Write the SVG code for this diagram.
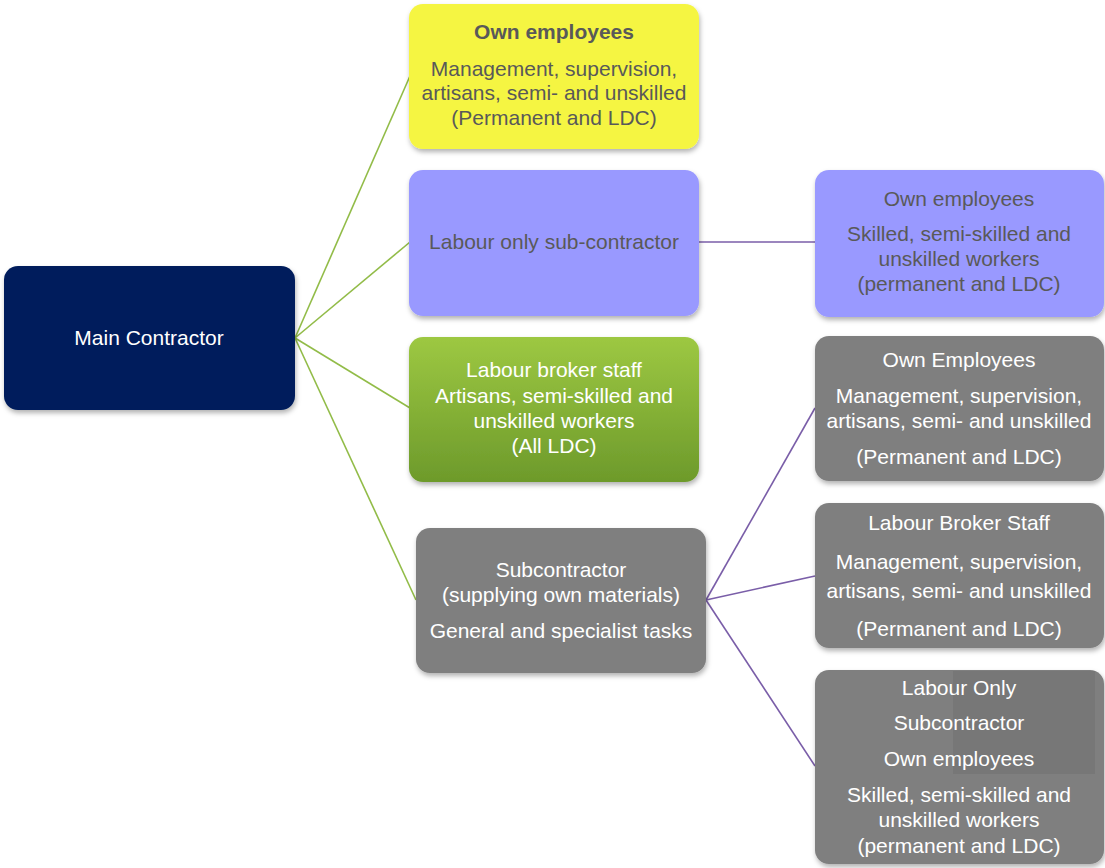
<svg xmlns="http://www.w3.org/2000/svg" width="1105" height="868" viewBox="0 0 1105 868">
<style>
text{font-family:"Liberation Sans",Arial,sans-serif;font-size:21px;text-anchor:middle}
.d{fill:#595959}
.w{fill:#ffffff}
.b{font-weight:bold}
.g{stroke:#92bc48;stroke-width:1.6;fill:none}
.p{stroke:#7a5ea8;stroke-width:1.6;fill:none}
</style>
<defs>
<filter id="sh" x="-10%" y="-10%" width="120%" height="130%">
<feDropShadow dx="1" dy="3" stdDeviation="2.5" flood-color="#000" flood-opacity="0.3"/>
</filter>
<linearGradient id="gr" x1="0" y1="0" x2="0" y2="1">
<stop offset="0" stop-color="#9dc842"/>
<stop offset="1" stop-color="#6d9a2b"/>
</linearGradient>
</defs>
<g id="connectors">
<line class="g" x1="295" y1="338" x2="410" y2="76"/>
<line class="g" x1="295" y1="338" x2="410" y2="242"/>
<line class="g" x1="295" y1="338" x2="410" y2="408"/>
<line class="g" x1="295" y1="338" x2="416" y2="600"/>
<line class="p" x1="699" y1="242" x2="815" y2="242"/>
<line class="p" x1="706" y1="600" x2="815" y2="408"/>
<line class="p" x1="706" y1="600" x2="815" y2="576"/>
<line class="p" x1="706" y1="600" x2="815" y2="766"/>
</g>
<g id="main">
<rect x="4" y="266" width="291" height="144" rx="14" fill="#001f5c" filter="url(#sh)"/>
<text class="w" x="149" y="345">Main Contractor</text>
</g>
<g id="own-employees">
<rect x="409" y="4" width="290" height="145" rx="14" fill="#f5f542" filter="url(#sh)"/>
<text class="d b" x="554" y="39">Own employees</text>
<text class="d" x="554" y="76">Management, supervision,</text>
<text class="d" x="554" y="100">artisans, semi- and unskilled</text>
<text class="d" x="554" y="125">(Permanent and LDC)</text>
</g>
<g id="labour-only">
<rect x="409" y="170" width="290" height="146" rx="14" fill="#9999ff" filter="url(#sh)"/>
<text class="d" x="554" y="249">Labour only sub-contractor</text>
</g>
<g id="labour-only-own">
<rect x="815" y="170" width="289" height="147" rx="14" fill="#9999ff" filter="url(#sh)"/>
<text class="d" x="959" y="206">Own employees</text>
<text class="d" x="959" y="241">Skilled, semi-skilled and</text>
<text class="d" x="959" y="266">unskilled workers</text>
<text class="d" x="959" y="291">(permanent and LDC)</text>
</g>
<g id="labour-broker">
<rect x="409" y="337" width="290" height="145" rx="14" fill="url(#gr)" filter="url(#sh)"/>
<text class="w" x="554" y="377">Labour broker staff</text>
<text class="w" x="554" y="403">Artisans, semi-skilled and</text>
<text class="w" x="554" y="428">unskilled workers</text>
<text class="w" x="554" y="453">(All LDC)</text>
</g>
<g id="subcontractor">
<rect x="416" y="528" width="290" height="145" rx="14" fill="#7f7f7f" filter="url(#sh)"/>
<text class="w" x="561" y="577">Subcontractor</text>
<text class="w" x="561" y="602">(supplying own materials)</text>
<text class="w" x="561" y="638">General and specialist tasks</text>
</g>
<g id="sub-own">
<rect x="815" y="336" width="289" height="145" rx="14" fill="#7f7f7f" filter="url(#sh)"/>
<text class="w" x="959" y="367">Own Employees</text>
<text class="w" x="959" y="403">Management, supervision,</text>
<text class="w" x="959" y="428">artisans, semi- and unskilled</text>
<text class="w" x="959" y="464">(Permanent and LDC)</text>
</g>
<g id="sub-broker">
<rect x="815" y="503" width="289" height="145" rx="14" fill="#7f7f7f" filter="url(#sh)"/>
<text class="w" x="959" y="530">Labour Broker Staff</text>
<text class="w" x="959" y="569">Management, supervision,</text>
<text class="w" x="959" y="598">artisans, semi- and unskilled</text>
<text class="w" x="959" y="636">(Permanent and LDC)</text>
</g>
<g id="sub-labour-only">
<rect x="815" y="670" width="289" height="194" rx="14" fill="#7f7f7f" filter="url(#sh)"/>
<rect x="953" y="671" width="142" height="103" fill="#777777"/>
<text class="w" x="959" y="695">Labour Only</text>
<text class="w" x="959" y="730">Subcontractor</text>
<text class="w" x="959" y="766">Own employees</text>
<text class="w" x="959" y="802">Skilled, semi-skilled and</text>
<text class="w" x="959" y="827">unskilled workers</text>
<text class="w" x="959" y="853">(permanent and LDC)</text>
</g>
</svg>
